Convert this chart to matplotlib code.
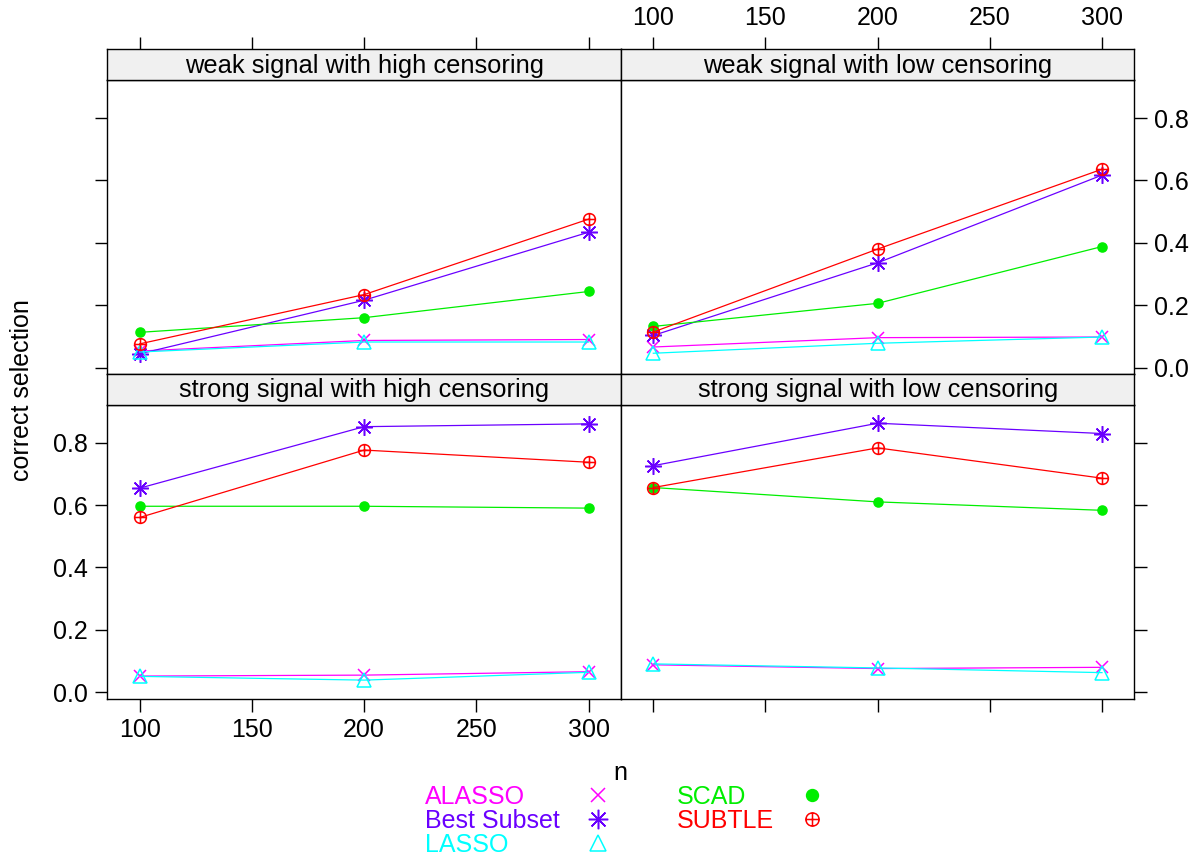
import matplotlib
matplotlib.use("Agg")
import matplotlib.pyplot as plt
from matplotlib.path import Path

plt.rcParams['font.family'] = ['Liberation Sans', 'DejaVu Sans']

# ---------------- data ----------------
n_values = [100, 200, 300]
panel_titles = ["weak signal with high censoring", "weak signal with low censoring",
                "strong signal with high censoring", "strong signal with low censoring"]
methods = ["ALASSO", "Best Subset", "LASSO", "SCAD", "SUBTLE"]

# values per panel (order as panel_titles)
alasso = [[0.053, 0.087, 0.090], [0.066, 0.096, 0.098],
          [0.052, 0.055, 0.066], [0.088, 0.076, 0.080]]
best_subset = [[0.044, 0.216, 0.434], [0.103, 0.336, 0.617],
               [0.654, 0.851, 0.860], [0.726, 0.862, 0.829]]
lasso = [[0.050, 0.082, 0.082], [0.046, 0.078, 0.098],
         [0.051, 0.039, 0.064], [0.091, 0.078, 0.063]]
scad = [[0.113, 0.160, 0.244], [0.132, 0.206, 0.388],
        [0.596, 0.596, 0.590], [0.656, 0.610, 0.583]]
subtle = [[0.076, 0.234, 0.476], [0.114, 0.380, 0.636],
          [0.560, 0.776, 0.737], [0.656, 0.783, 0.686]]

x_ticks = [100, 150, 200, 250, 300]
y_ticks = [0.0, 0.2, 0.4, 0.6, 0.8]
y_tick_labels = ["0.0", "0.2", "0.4", "0.6", "0.8"]

# ---------------- styles ----------------
circle_plus = Path.make_compound_path(
    Path.unit_circle(),
    Path([(-1, 0), (1, 0)], [Path.MOVETO, Path.LINETO]),
    Path([(0, -1), (0, 1)], [Path.MOVETO, Path.LINETO]))

series = [alasso, best_subset, lasso, scad, subtle]
colors = ["#FF00FF", "#6A00FF", "#00FFFF", "#00EE00", "#FF0000"]
markers = ["x", (8, 2, 0), "^", "o", circle_plus]
msizes = [8.5, 12, 9.5, 6.5, 8.5]
leg_msizes = [10, 14, 12, 8.5, 9.5]
filled = [False, False, False, True, False]

W, H = 1194, 856
fig = plt.figure(figsize=(W / 100, H / 100), dpi=100)

def fax(x0, y0, x1, y1):
    return fig.add_axes([x0 / W, 1 - y1 / H, (x1 - x0) / W, (y1 - y0) / H])

xl = (85.6, 314.4)
yl = (-0.0215, 0.922)
colx = [(107.3, 621.0), (621.0, 1134.3)]
rowy = [(80.0, 374.3), (404.5, 699.0)]
stripy = [(49.3, 80.0), (374.3, 404.5)]
FS = 18
TL = 9
strip_bg = "#F0F0F0"

for idx, title in enumerate(panel_titles):
    r, c = divmod(idx, 2)
    ax = fax(colx[c][0], rowy[r][0], colx[c][1], rowy[r][1])
    for s, col, mk, ms, fl in zip(series, colors, markers, msizes, filled):
        ax.plot(n_values, s[idx], color=col, lw=0.9, marker=mk, markersize=ms,
                markerfacecolor=col if fl else "none", markeredgecolor=col,
                markeredgewidth=1.1)
    ax.set_xlim(xl)
    ax.set_ylim(yl)
    for sp in ax.spines.values():
        sp.set_linewidth(1.0)
    ax.tick_params(direction="out", length=TL, width=1.0, labelsize=FS, pad=5,
                   top=False, bottom=False, left=False, right=False,
                   labeltop=False, labelbottom=False, labelleft=False, labelright=False)
    ax.set_xticks(x_ticks)
    ax.set_xticklabels([str(t) for t in x_ticks])
    ax.set_yticks(y_ticks)
    ax.set_yticklabels(y_tick_labels)
    if r == 1:
        ax.tick_params(bottom=True, labelbottom=(c == 0))
    if c == 0:
        ax.tick_params(left=True, labelleft=(r == 1))
    else:
        ax.tick_params(right=True, labelright=(r == 0))

    # strip
    st = fax(colx[c][0], stripy[r][0], colx[c][1], stripy[r][1])
    st.set_facecolor(strip_bg)
    st.set_xlim(xl)
    st.set_yticks([])
    for sp in st.spines.values():
        sp.set_linewidth(1.0)
    st.text(0.5, 0.47, title, transform=st.transAxes, ha="center", va="center",
            fontsize=FS + 0.4)
    st.set_xticks(x_ticks)
    st.set_xticklabels([str(t) for t in x_ticks])
    if r == 0:
        st.tick_params(axis="x", direction="out", length=TL, width=1.0, labelsize=FS,
                       pad=5, bottom=False, labelbottom=False, top=True,
                       labeltop=(c == 1))
    else:
        st.tick_params(axis="x", bottom=False, labelbottom=False, top=False,
                       labeltop=False)

fig.text(22 / W, 1 - 390 / H, "correct selection", rotation=90, ha="center",
         va="center", fontsize=FS)
fig.text(620 / W, 1 - 773 / H, "n", ha="center", va="center", fontsize=FS)

# legend
lg = fax(0, 760, W, 856)
lg.set_xlim(0, W)
lg.set_ylim(856, 760)
lg.axis("off")
row_y = [795, 819, 843]
positions = [(425, 598, row_y[0]), (425, 598, row_y[1]), (425, 598, row_y[2]),
             (677, 812, row_y[0]), (677, 812, row_y[1])]
for name, col, mk, ms, fl, (tx, mx, yy) in zip(methods, colors, markers, leg_msizes,
                                                filled, positions):
    lg.text(tx, yy + 1.5, name, color=col, fontsize=FS, ha="left", va="center")
    lg.plot([mx], [yy], linestyle="none", marker=mk, markersize=ms, color=col,
            markerfacecolor=col if fl else "none", markeredgecolor=col,
            markeredgewidth=1.1)

fig.savefig("out.png", dpi=100)
